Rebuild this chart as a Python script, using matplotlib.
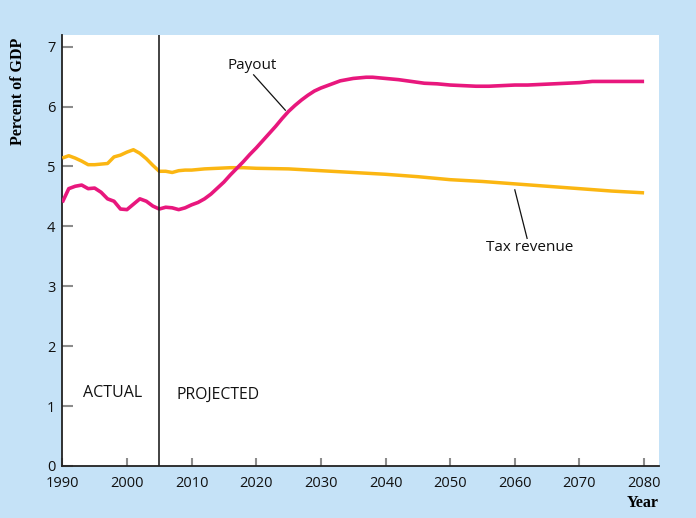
import matplotlib.pyplot as plt

# payout, percent of GDP
payout_years = [1990, 1991, 1992, 1993, 1994, 1995, 1996, 1997, 1998, 1999,
                2000, 2001, 2002, 2003, 2004, 2005, 2006, 2007, 2008, 2009,
                2010, 2011, 2012, 2013, 2014, 2015, 2016, 2017, 2018, 2019,
                2020, 2021, 2022, 2023, 2024, 2025, 2026, 2027, 2028, 2029,
                2030, 2031, 2032, 2033, 2034, 2035, 2036, 2037, 2038, 2040,
                2042, 2044, 2046, 2048, 2050, 2052, 2054, 2056, 2058, 2060,
                2062, 2064, 2066, 2068, 2070, 2072, 2074, 2076, 2078, 2080]
payout = [4.40, 4.63, 4.67, 4.69, 4.63, 4.64, 4.57, 4.46, 4.42, 4.29,
          4.28, 4.37, 4.46, 4.42, 4.34, 4.29, 4.32, 4.31, 4.28, 4.31,
          4.36, 4.40, 4.46, 4.54, 4.64, 4.74, 4.86, 4.97, 5.08, 5.20,
          5.31, 5.43, 5.55, 5.67, 5.80, 5.92, 6.02, 6.11, 6.19, 6.26,
          6.31, 6.35, 6.39, 6.43, 6.45, 6.47, 6.48, 6.49, 6.49, 6.47,
          6.45, 6.42, 6.39, 6.38, 6.36, 6.35, 6.34, 6.34, 6.35, 6.36,
          6.36, 6.37, 6.38, 6.39, 6.40, 6.42, 6.42, 6.42, 6.42, 6.42]

# tax revenue, percent of GDP
tax_years = [1990, 1991, 1992, 1993, 1994, 1995, 1996, 1997, 1998, 1999,
             2000, 2001, 2002, 2003, 2004, 2005, 2006, 2007, 2008, 2009,
             2010, 2012, 2014, 2016, 2018, 2020, 2025, 2030, 2035, 2040,
             2045, 2050, 2055, 2060, 2065, 2070, 2075, 2080]
tax = [5.14, 5.18, 5.14, 5.09, 5.03, 5.03, 5.04, 5.05, 5.16, 5.19,
       5.24, 5.28, 5.22, 5.13, 5.02, 4.92, 4.92, 4.90, 4.93, 4.94,
       4.94, 4.96, 4.97, 4.98, 4.98, 4.97, 4.96, 4.93, 4.90, 4.87,
       4.83, 4.78, 4.75, 4.71, 4.67, 4.63, 4.59, 4.56]

xticks = [1990, 2000, 2010, 2020, 2030, 2040, 2050, 2060, 2070, 2080]
yticks = [0, 1, 2, 3, 4, 5, 6, 7]

bg = "#c5e2f7"
pink = "#e8177d"
gold = "#fbb612"
ink = "#111111"
sans = "Open Sans"
serif = "Liberation Serif"

fig = plt.figure(figsize=(6.96, 5.18), dpi=100, facecolor=bg)
ax = fig.add_axes([0.0895, 0.1004, 0.8573, 0.832])
ax.set_facecolor("white")

ax.plot(tax_years, tax, color=gold, lw=2.5, solid_capstyle="butt", zorder=3)
ax.plot(payout_years, payout, color=pink, lw=2.6, solid_capstyle="butt", zorder=4)
ax.axvline(2005, color="#222222", lw=1.2, zorder=5)

ax.set_xlim(1990, 2082.3)
ax.set_ylim(0, 7.195)
ax.set_xticks(xticks)
ax.set_yticks(yticks)
ax.tick_params(direction="in", color="#8c8c8c", width=1.5, labelsize=10.5,
               labelcolor=ink)
ax.tick_params(axis="x", length=6, pad=7)
ax.tick_params(axis="y", length=8, pad=5)
for lab in ax.get_xticklabels() + ax.get_yticklabels():
    lab.set_family(sans)

for s in ["top", "right"]:
    ax.spines[s].set_visible(False)
for s in ["left", "bottom"]:
    ax.spines[s].set_color("#222222")
    ax.spines[s].set_linewidth(1.3)

ax.text(1997.7, 1.22, "ACTUAL", ha="center", va="center", fontsize=11.5,
        family=sans, color=ink)
ax.text(2014.1, 1.19, "PROJECTED", ha="center", va="center", fontsize=11.3,
        family=sans, color=ink)

ax.text(2019.3, 6.69, "Payout", ha="center", va="center", fontsize=11,
        family=sans, color=ink)
ax.plot([2019.6, 2024.5], [6.53, 5.94], color=ink, lw=0.9, zorder=6)

ax.text(2062.3, 3.64, "Tax revenue", ha="center", va="center", fontsize=11,
        family=sans, color=ink)
ax.plot([2060.0, 2061.9], [4.61, 3.80], color=ink, lw=0.9, zorder=6)

fig.text(18 / 696, 1 - 91.5 / 518, "Percent of GDP", rotation=90, ha="center",
         va="center", fontsize=11.5, fontweight="bold", family=serif)
fig.text(659 / 696, 1 - 502.7 / 518, "Year", ha="right", va="center",
         fontsize=11.5, fontweight="bold", family=serif)

fig.savefig("out.png", dpi=100, facecolor=bg)
